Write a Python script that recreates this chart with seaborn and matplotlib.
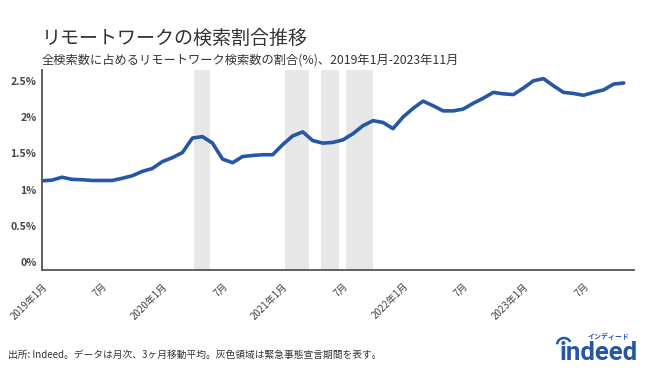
import pandas as pd
import matplotlib.pyplot as plt
from matplotlib.patches import Arc
import seaborn as sns

# リモートワーク検索割合 (%), 3ヶ月移動平均, 2019年1月-2023年11月
share = [1.12, 1.13, 1.17, 1.14, 1.135, 1.125, 1.125, 1.125, 1.155, 1.19,
         1.25, 1.29, 1.385, 1.44, 1.51, 1.71, 1.73, 1.64, 1.42, 1.37,
         1.455, 1.47, 1.48, 1.48, 1.62, 1.74, 1.795, 1.675, 1.64, 1.65,
         1.685, 1.77, 1.88, 1.95, 1.925, 1.84, 2.00, 2.12, 2.22, 2.155,
         2.085, 2.085, 2.11, 2.19, 2.26, 2.34, 2.32, 2.31, 2.40, 2.50,
         2.53, 2.43, 2.34, 2.325, 2.30, 2.34, 2.375, 2.455, 2.47]
months = pd.date_range('2019-01-01', periods=len(share), freq='MS')

# 緊急事態宣言期間
emergency_start = ['2020-04-07', '2021-01-08', '2021-04-25', '2021-07-12']
emergency_end = ['2020-05-25', '2021-03-21', '2021-06-20', '2021-09-30']

y_ticks = [0, 0.5, 1, 1.5, 2, 2.5]
y_labels = ['0%', '0.5%', '1%', '1.5%', '2%', '2.5%']


def month_pos(d):
    d = pd.Timestamp(d)
    return (d.year - 2019) * 12 + d.month - 1 + (d.day - 1) / d.days_in_month


df = pd.DataFrame({'idx': [month_pos(m) for m in months], 'share': share})

sns.set_style('white')
plt.rcParams['font.family'] = ['Noto Sans CJK JP', 'DejaVu Sans']

fig = plt.figure(figsize=(6.5, 3.8), dpi=100)
ax = fig.add_axes([0.0646, 0.2895, 0.9104, 0.5265])

for s, e in zip(emergency_start, emergency_end):
    ax.axvspan(month_pos(s), month_pos(e), color='#e8e8e8', lw=0, zorder=0)

sns.lineplot(data=df, x='idx', y='share', color='#2557a7', lw=2.6, ax=ax)

ax.set_xlim(0, 59)
ax.set_ylim(-0.11, 2.65)
ax.set_yticks(y_ticks)
ax.set_yticklabels(y_labels, fontsize=7.5, fontweight='bold', color='#444444')

tick_pos = list(range(0, 59, 6))
tick_lab = [f'{2019 + p // 12}年1月' if p % 12 == 0 else '7月' for p in tick_pos]
ax.set_xticks(tick_pos)
ax.set_xticklabels(tick_lab, rotation=45, ha='right', rotation_mode='anchor',
                   fontsize=7, color='#444444')
ax.tick_params(axis='both', length=0, pad=4)
ax.tick_params(axis='x', pad=8)
ax.set_xlabel('')
ax.set_ylabel('')

for side in ['top', 'right']:
    ax.spines[side].set_visible(False)
for side in ['left', 'bottom']:
    ax.spines[side].set_color('#555555')
    ax.spines[side].set_linewidth(1.3)

fig.text(42 / 650, 1 - 38 / 380, 'リモートワークの検索割合推移', fontsize=13.7,
         color='#333333', va='center', ha='left')
fig.text(42 / 650, 1 - 60 / 380,
         '全検索数に占めるリモートワーク検索数の割合(%)、2019年1月-2023年11月',
         fontsize=8.8, color='#333333', va='center', ha='left')
fig.text(8 / 650, 1 - 355 / 380,
         '出所: Indeed。データは月次、3ヶ月移動平均。灰色領域は緊急事態宣言期間を表す。',
         fontsize=7, color='#333333', va='center', ha='left')

# ロゴ
fig.text(638 / 650, 1 - 353 / 380, 'indeed', fontsize=18.5, fontweight='bold',
         color='#2557a7', family=['Roboto', 'DejaVu Sans'],
         va='center', ha='right')
fig.text(630 / 650, 1 - 336 / 380, 'インディード', fontsize=5, fontweight='bold',
         color='#2557a7', va='center', ha='right')
fig.add_artist(Arc((564 / 650, 1 - 345 / 380), 14 / 650, 14 / 380,
                   theta1=40, theta2=170, color='#2557a7', lw=1.8,
                   transform=fig.transFigure))

fig.savefig('out.png', dpi=100)
